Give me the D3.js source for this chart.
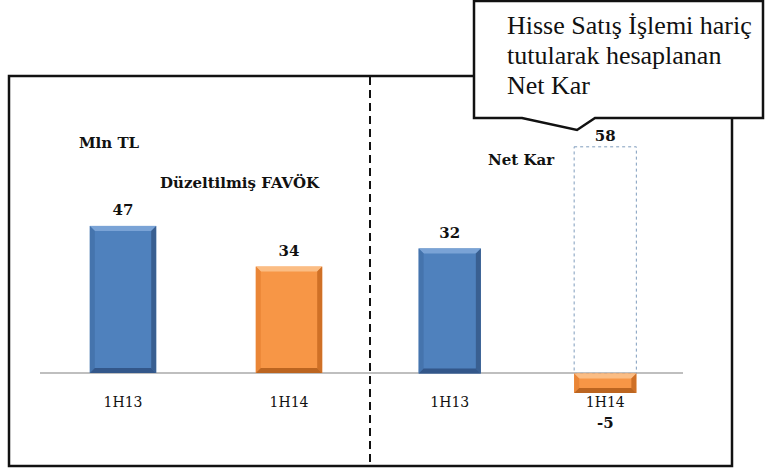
<!DOCTYPE html>
<head>
  <meta charset="utf-8">
  <style>
    body { margin: 0; background: #fff; }
    svg text { font-family: "DejaVu Serif", serif; fill: #111; }
    svg .lbl { font-size: 15px; font-weight: bold; }
    svg .cat { font-size: 14px; }
    svg .note { font-family: "Liberation Serif", serif; font-size: 26px; }
  </style>
</head>

<body>
<script src="https://d3js.org/d3.v7.min.js"></script>

<script>
  // data
  var categories = ["1H13", "1H14"];
  var favok      = [47, 34];     // Düzeltilmiş FAVÖK
  var netKar     = [32, -5];     // Net Kar
  var netKarExcl = [null, 58];   // hisse satış işlemi hariç (dashed)
  var barColors  = ["blue", "orange"];

  var width = 777, height = 468;
  var baseY = 373;

  var svg = d3.select("body")
    .append("svg")
      .attr("width", width)
      .attr("height", height);

  // scales - each panel has its own
  var xLeft = d3.scaleBand().domain(categories).range([40, 372])
      .paddingInner(0.6).paddingOuter(0.3);
  var xRight = d3.scaleBand().domain(categories).range([372, 683])
      .paddingInner(0.6).paddingOuter(0.3);
  var yLeft  = d3.scaleLinear().domain([0, 50]).range([baseY, baseY - 50 * 3.13]);
  var yRight = d3.scaleLinear().domain([-10, 60]).range([baseY + 10 * 3.95, baseY - 60 * 3.9]);

  var shades = {
    blue:   { base: "#4f81bd", top: "#7aa3d6", side: "#4574ad", right: "#395f91", bottom: "#33578a" },
    orange: { base: "#f79646", top: "#fbbd84", side: "#ea8637", right: "#cf7026", bottom: "#bc6520" }
  };

  // outer frame
  svg.append("rect")
      .attr("x", 9).attr("y", 76)
      .attr("width", 723).attr("height", 390)
      .style("fill", "none")
      .style("stroke", "#111")
      .style("stroke-width", "2.5px");

  // zero line
  svg.append("line")
      .attr("x1", 40).attr("x2", 683)
      .attr("y1", yLeft(0)).attr("y2", yLeft(0))
      .style("stroke", "#bfbfbf")
      .style("stroke-width", "2px");

  // divider
  svg.append("line")
      .attr("x1", 370).attr("x2", 370)
      .attr("y1", 77).attr("y2", 466)
      .style("stroke", "#111")
      .style("stroke-width", "2px")
      .style("stroke-dasharray", "8,5");

  // bevelled bar
  function bar(x, w, y0, y1, c) {
    var top = Math.min(y0, y1), bot = Math.max(y0, y1), h = bot - top;
    var b = Math.min(5, h / 3), s = shades[c];
    var g = svg.append("g");
    g.append("rect").attr("x", x).attr("y", top).attr("width", w).attr("height", h).style("fill", s.base);
    g.append("polygon").style("fill", s.top)
      .attr("points", [[x, top], [x + w, top], [x + w - b, top + b], [x + b, top + b]].join(" "));
    g.append("polygon").style("fill", s.side)
      .attr("points", [[x, top], [x + b, top + b], [x + b, bot - b], [x, bot]].join(" "));
    g.append("polygon").style("fill", s.right)
      .attr("points", [[x + w, top], [x + w, bot], [x + w - b, bot - b], [x + w - b, top + b]].join(" "));
    g.append("polygon").style("fill", s.bottom)
      .attr("points", [[x, bot], [x + b, bot - b], [x + w - b, bot - b], [x + w, bot]].join(" "));
  }

  // left panel bars
  categories.forEach(function (c, i) {
    bar(xLeft(c), xLeft.bandwidth(), yLeft(0), yLeft(favok[i]), barColors[i]);
    svg.append("text").classed("lbl", true)
      .attr("x", xLeft(c) + xLeft.bandwidth() / 2)
      .attr("y", yLeft(favok[i]) - 11)
      .style("text-anchor", "middle")
      .text(favok[i]);
    svg.append("text").classed("cat", true)
      .attr("x", xLeft(c) + xLeft.bandwidth() / 2)
      .attr("y", 407)
      .style("text-anchor", "middle")
      .text(c);
  });

  // dashed ghost bar (excl. share sale)
  categories.forEach(function (c, i) {
    if (netKarExcl[i] == null) return;
    svg.append("rect")
      .attr("x", xRight(c)).attr("y", yRight(netKarExcl[i]))
      .attr("width", xRight.bandwidth())
      .attr("height", yRight(0) - yRight(netKarExcl[i]))
      .style("fill", "none")
      .style("stroke", "#7f9cbd")
      .style("stroke-width", "1px")
      .style("stroke-dasharray", "3,3");
    svg.append("text").classed("lbl", true)
      .attr("x", xRight(c) + xRight.bandwidth() / 2)
      .attr("y", yRight(netKarExcl[i]) - 6)
      .style("text-anchor", "middle")
      .text(netKarExcl[i]);
  });

  // right panel bars
  categories.forEach(function (c, i) {
    var v = netKar[i];
    bar(xRight(c), xRight.bandwidth(), yRight(0), yRight(v), barColors[i]);
    svg.append("text").classed("lbl", true)
      .attr("x", xRight(c) + xRight.bandwidth() / 2)
      .attr("y", v >= 0 ? yRight(v) - 10 : 428)
      .style("text-anchor", "middle")
      .text(v);
    svg.append("text").classed("cat", true)
      .attr("x", xRight(c) + xRight.bandwidth() / 2)
      .attr("y", 407)
      .style("text-anchor", "middle")
      .text(c);
  });

  // titles
  svg.append("text").classed("lbl", true).attr("x", 79).attr("y", 148).text("Mln TL");
  svg.append("text").classed("lbl", true).attr("x", 160).attr("y", 188).text("Düzeltilmiş FAVÖK");
  svg.append("text").classed("lbl", true).attr("x", 488).attr("y", 165).text("Net Kar");

  // callout
  svg.append("polygon")
      .attr("points", [[474, 1], [763, 1], [763, 118], [595, 118], [577, 130], [522, 118], [474, 118]].join(" "))
      .style("fill", "#fff")
      .style("stroke", "#111")
      .style("stroke-width", "2.5px");

  var noteLines = ["Hisse Satış İşlemi hariç", "tutularak hesaplanan", "Net Kar"];
  svg.append("text").classed("note", true)
      .selectAll("tspan")
      .data(noteLines)
    .enter().append("tspan")
      .attr("x", 507)
      .attr("y", function (d, i) { return 34 + i * 30; })
      .text(function (d) { return d; });
</script>
</body>
</html>
